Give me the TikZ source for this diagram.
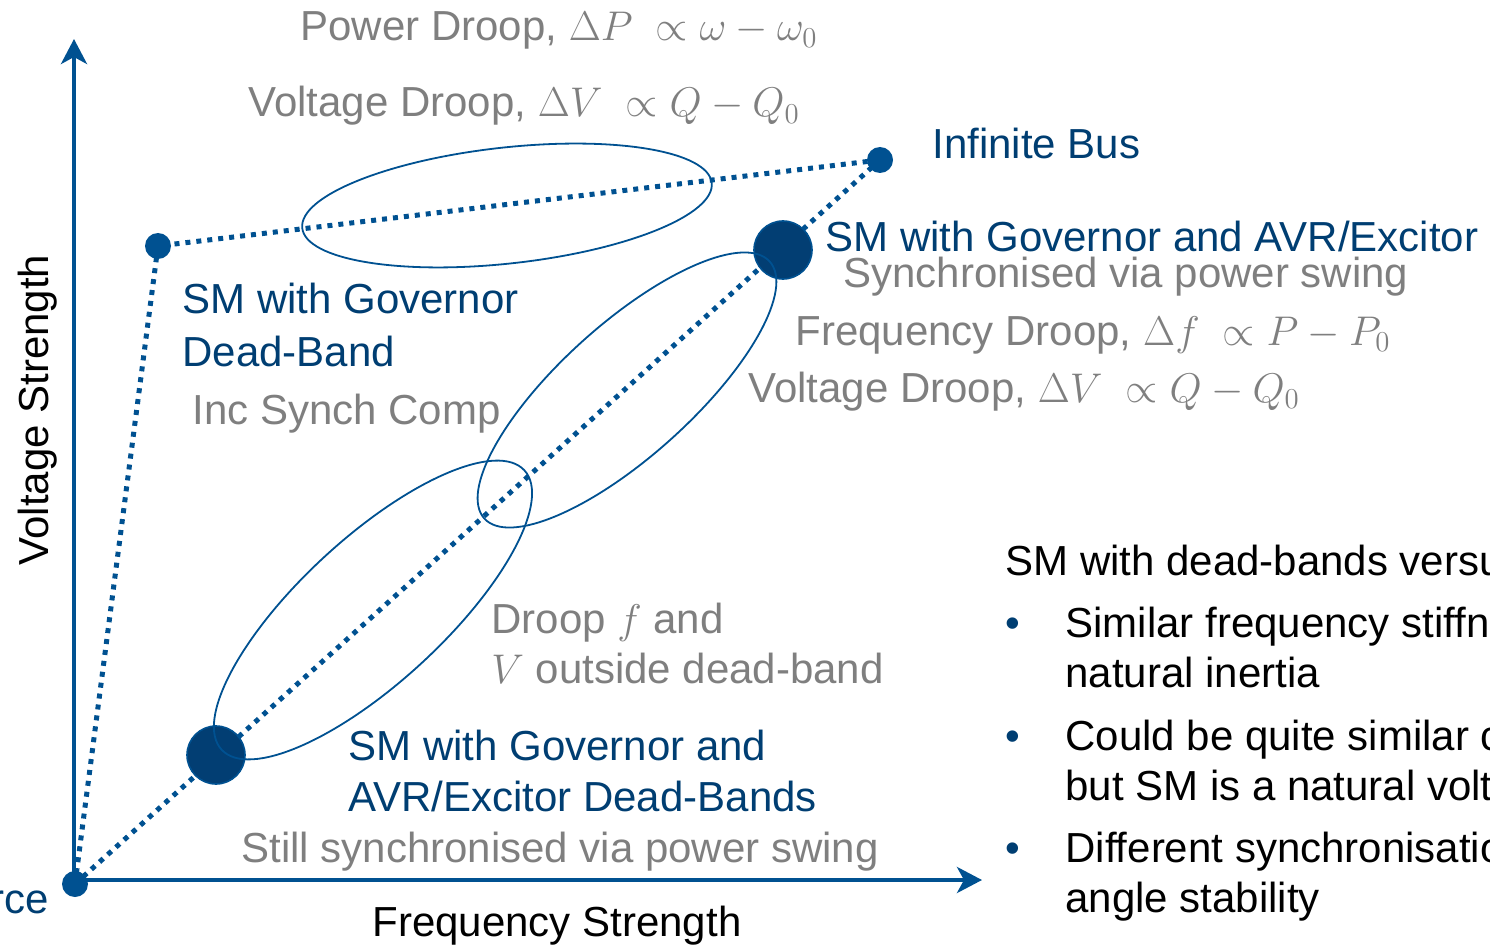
\documentclass[tikz,border=0pt]{standalone}
\usepackage{fontspec}
\setmainfont{Liberation Sans}
\usetikzlibrary{arrows.meta,backgrounds}

\definecolor{axisblue}{RGB}{0,81,145}
\definecolor{darkblue}{RGB}{0,62,114}
\definecolor{dotblue}{RGB}{2,62,115}
\definecolor{softgray}{RGB}{127,127,127}

\begin{document}
\begin{tikzpicture}
  [
    x                 = 0.5pt,
    y                 = -0.5pt,
    every node/.style = {font=\fontsize{21}{26}\selectfont, inner sep=0pt},
    axis/.style       = {draw=axisblue, line width=2pt, -{Stealth[length=12.5pt, width=13pt, inset=3.5pt]}},
    dotline/.style    = {draw=axisblue, line width=2.5pt, dash pattern=on 2.5pt off 3pt},
    ring/.style       = {draw=axisblue, line width=0.9pt},
    smalldot/.style   = {circle, fill=axisblue, minimum size=13pt},
    bigdot/.style     = {circle, fill=dotblue, draw=axisblue, line width=0.8pt, minimum size=29pt},
    bluetext/.style   = {text=darkblue, anchor=base west},
    graytext/.style   = {text=softgray, anchor=base west},
    blacktext/.style  = {text=black, anchor=base west}
  ]
  \useasboundingbox (0,0) rectangle (1490,947);
  \clip (0,0) rectangle (1490,947);

  % operating points
  \node[smalldot] (source) at (75,884) {};
  \node[smalldot] (bus) at (880,160) {};
  \node[smalldot] (govdb) at (158,246) {};
  \node[bigdot] (smfull) at (783,250) {};
  \node[bigdot] (smdb) at (216,755) {};

  \coordinate (origin) at (74,880);
  \coordinate (ytip) at (74,39);
  \coordinate (xtip) at (982,880);

  \begin{pgfonlayer}{background}
    \draw[axis] (origin) -- (ytip);
    \draw[axis] (origin) -- (xtip);
    \draw[dotline] (source.center) -- (govdb.center) -- (bus.center);
    \draw[dotline] (source.center) -- (bus.center);
  \end{pgfonlayer}

  % droop regions
  \coordinate (topring) at (507,205.5);
  \coordinate (upring) at (627,390);
  \coordinate (lowring) at (373,610);
  \draw[ring, rotate around={6.3:(topring)}] (topring) ellipse [x radius=206, y radius=58];
  \draw[ring, rotate around={42:(upring)}] (upring) ellipse [x radius=192, y radius=66];
  \draw[ring, rotate around={42.7:(lowring)}] (lowring) ellipse [x radius=206, y radius=72];

  % labels
  \node[graytext] (pdroop) at (300,41) {Power Droop, $\Delta P\ \propto \omega - \omega_0$};
  \node[graytext] (vdroopa) at (248,117) {Voltage Droop, $\Delta V\ \propto Q - Q_0$};
  \node[bluetext] (buslabel) at (932,159) {Infinite Bus};
  \node[bluetext] (fulllabel) at (825,251) {SM with Governor and AVR/Excitor};
  \node[graytext] (fullsync) at (843,287) {Synchronised via power swing};
  \node[graytext] (fdroop) at (795,345) {Frequency Droop, $\Delta f\ \propto P - P_0$};
  \node[graytext] (vdroopb) at (748,402) {Voltage Droop, $\Delta V\ \propto Q - Q_0$};
  \node[bluetext] (govlabela) at (182,314) {SM with Governor};
  \node[bluetext] (govlabelb) at (182,366) {Dead-Band};
  \node[graytext] (govsync) at (192,424) {Inc Synch Comp};
  \node[graytext] (dbdroopa) at (491,633) {Droop $f$ and};
  \node[graytext] (dbdroopb) at (491,683) {$V$ outside dead-band};
  \node[bluetext] (dblabela) at (348,760) {SM with Governor and};
  \node[bluetext] (dblabelb) at (348,811) {AVR/Excitor Dead-Bands};
  \node[graytext] (dbsync) at (241,862) {Still synchronised via power swing};
  \node[bluetext] (srclabel) at (-10,913) {rce};
  \node[blacktext, anchor=base] (xlabel) at (557,936) {Frequency Strength};
  \node[blacktext, anchor=base, rotate=90] (ylabel) at (48,410) {Voltage Strength};

  % comparison notes
  \node[blacktext] (notehead) at (1005,575) {SM with dead-bands versu};
  \foreach \y in {637, 750, 862}
    \node[bluetext] at (1005,\y) {•};
  \node[blacktext] (notea) at (1065,637) {Similar frequency stiffn};
  \node[blacktext] (noteb) at (1065,687) {natural inertia};
  \node[blacktext] (notec) at (1065,750) {Could be quite similar c};
  \node[blacktext] (noted) at (1065,800) {but SM is a natural volt};
  \node[blacktext] (notee) at (1065,862) {Different synchronisatio};
  \node[blacktext] (notef) at (1065,912) {angle stability};
\end{tikzpicture}
\end{document}
